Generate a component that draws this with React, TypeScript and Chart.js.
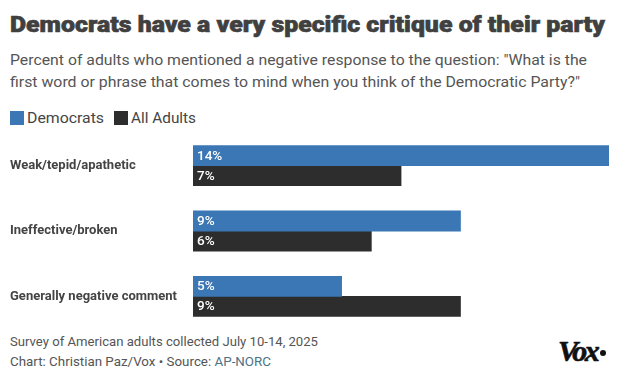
import React, { useEffect, useLayoutEffect, useRef } from "react";
import { Chart, registerables } from "chart.js";

Chart.register(...registerables);

const categories = ["Weak/tepid/apathetic", "Ineffective/broken", "Generally negative comment"];
const democrats = [14, 9, 5];
const allAdults = [7, 6, 9];
const seriesNames = ["Democrats", "All Adults"];
const seriesColors = ["#3a77b4", "#2d2d2d"];
const xMax = 14;

const title = "Democrats have a very specific critique of their party";
const subtitle1 = 'Percent of adults who mentioned a negative response to the question: "What is the';
const subtitle2 = 'first word or phrase that comes to mind when you think of the Democratic Party?"';
const footer1 = "Survey of American adults collected July 10-14, 2025";
const footer2a = "Chart: Christian Paz/Vox \u2022 Source: ";
const footer2b = "AP-NORC";

const FONT = "Roboto, 'Liberation Sans', sans-serif";

function Fit({ w, children, style }: { w: number; children: any; style?: any }) {
  const ref = useRef<HTMLSpanElement>(null);
  useLayoutEffect(() => {
    const apply = () => {
      const el = ref.current;
      if (!el) return;
      el.style.transform = "";
      const actual = el.getBoundingClientRect().width;
      if (actual > 0) el.style.transform = `scaleX(${w / actual})`;
    };
    apply();
    (document as any).fonts?.ready?.then(apply);
  }, [w]);
  return (
    <span
      ref={ref}
      style={{ display: "inline-block", whiteSpace: "nowrap", transformOrigin: "0 0", ...style }}
    >
      {children}
    </span>
  );
}

const labelPlugin = {
  id: "barLabels",
  afterDatasetsDraw(chart: any) {
    const ctx = chart.ctx;
    ctx.save();
    ctx.fillStyle = "#ffffff";
    ctx.font = `500 13.5px ${FONT}`;
    ctx.textBaseline = "middle";
    ctx.textAlign = "left";
    chart.data.datasets.forEach((ds: any, i: number) => {
      const meta = chart.getDatasetMeta(i);
      meta.data.forEach((el: any, j: number) => {
        ctx.fillText(`${ds.data[j]}%`, el.base + 4, el.y + 0.5);
      });
    });
    ctx.restore();
  },
};

function BarChart() {
  const ref = useRef<HTMLCanvasElement>(null);
  useEffect(() => {
    if (!ref.current) return;
    const chart = new Chart(ref.current, {
      type: "bar",
      data: {
        labels: categories,
        datasets: [
          { label: seriesNames[0], data: democrats, backgroundColor: seriesColors[0] },
          { label: seriesNames[1], data: allAdults, backgroundColor: seriesColors[1] },
        ],
      },
      options: {
        indexAxis: "y",
        animation: false,
        responsive: false,
        maintainAspectRatio: false,
        datasets: { bar: { categoryPercentage: 40 / 65.33, barPercentage: 1, inflateAmount: 0.4 } },
        layout: { padding: { left: 10, right: 15, top: 0, bottom: 0 } },
        plugins: { legend: { display: false }, tooltip: { enabled: false }, title: { display: false } },
        scales: {
          x: { min: 0, max: xMax, display: false },
          y: {
            grid: { display: false },
            border: { display: false },
            ticks: {
              crossAlign: "far",
              color: "#444444",
              font: { family: FONT, size: 13, weight: "bold" },
              padding: 0,
            },
            afterFit(scale: any) {
              scale.width = 183;
              scale.paddingTop = 0;
              scale.paddingBottom = 0;
            },
          },
        },
      },
      plugins: [labelPlugin],
    } as any);
    return () => chart.destroy();
  }, []);
  return (
    <canvas
      ref={ref}
      width={624}
      height={196}
      style={{ position: "absolute", left: 0, top: 133, width: 624, height: 196 }}
    />
  );
}

export default function App() {
  const abs = (top: number, left: number, size: number, extra: any = {}) => ({
    position: "absolute" as const,
    top,
    left,
    fontSize: size,
    lineHeight: 1,
    fontFamily: FONT,
    whiteSpace: "nowrap" as const,
    ...extra,
  });
  return (
    <div
      style={{
        position: "absolute",
        left: 0,
        top: 0,
        width: 624,
        height: 391,
        background: "#ffffff",
        overflow: "hidden",
      }}
    >
      <div
        style={abs(13.5, 10, 22, {
          fontWeight: 900,
          color: "#404040",
          WebkitTextStroke: "0.6px #404040",
        })}
      >
        <Fit w={595}>{title}</Fit>
      </div>
      <div style={abs(53, 10, 15.5, { color: "#555555" })}>
        <Fit w={577}>{subtitle1}</Fit>
      </div>
      <div style={abs(74.5, 10, 15.5, { color: "#555555" })}>
        <Fit w={570}>{subtitle2}</Fit>
      </div>
      <div style={{ position: "absolute", left: 10, top: 111, width: 14, height: 14, background: seriesColors[0] }} />
      <div style={abs(110.5, 27, 15, { color: "#444444" })}>
        <Fit w={77}>{seriesNames[0]}</Fit>
      </div>
      <div style={{ position: "absolute", left: 114, top: 111, width: 14, height: 14, background: seriesColors[1] }} />
      <div style={abs(110.5, 131, 15, { color: "#444444" })}>
        <Fit w={65}>{seriesNames[1]}</Fit>
      </div>
      <BarChart />
      <div style={abs(334.5, 10, 13.5, { color: "#555555" })}>
        <Fit w={308}>{footer1}</Fit>
      </div>
      <div style={abs(354.5, 10, 13.5, { color: "#555555" })}>
        <Fit w={261}>
          {footer2a}
          <span style={{ color: "#4d7386" }}>{footer2b}</span>
        </Fit>
      </div>
      <div
        style={abs(336, 558, 30, {
          fontFamily: "'Liberation Serif', 'DejaVu Serif', serif",
          fontWeight: "bold",
          fontStyle: "italic",
          color: "#111111",
          letterSpacing: -2.5,
          WebkitTextStroke: "0.6px #111111",
        })}
      >
        Vox
        <span
          style={{
            display: "inline-block",
            width: 6,
            height: 6,
            borderRadius: 3,
            background: "#111111",
            marginLeft: 3,
            verticalAlign: "5px",
          }}
        />
      </div>
    </div>
  );
}
